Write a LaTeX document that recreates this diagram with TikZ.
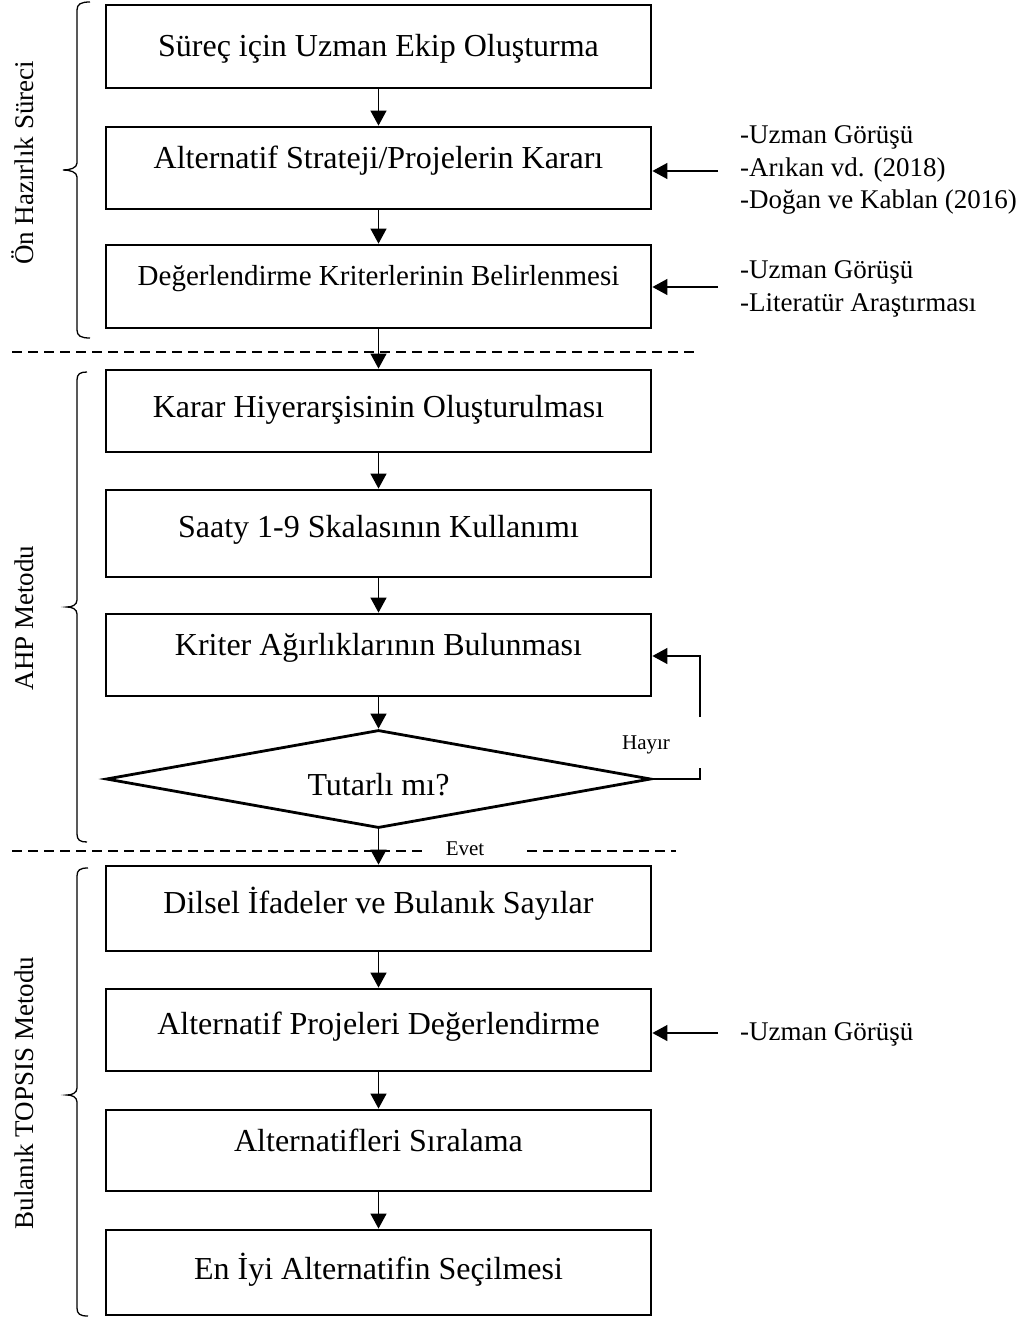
\documentclass[tikz,border=0pt]{standalone}
\usepackage{fontspec}
\setmainfont{Liberation Serif}
\usetikzlibrary{arrows.meta,shapes.geometric}
\begin{document}
\begin{tikzpicture}[x=1pt,y=-1pt,
  box/.style={draw, line width=2.8pt, minimum width=545pt, inner xsep=0pt, inner ysep=0pt,
    font=\fontsize{32}{38}\selectfont, anchor=base},
  flow/.style={line width=1.3pt, -{Triangle[length=15pt,width=16pt]}},
  wire/.style={line width=1.3pt},
  note/.style={anchor=base west, inner sep=0pt, font=\fontsize{27}{32}\selectfont},
  phase/.style={rotate=90, anchor=base, inner sep=0pt, font=\fontsize{27}{32}\selectfont},
  brace/.style={line width=1.3pt},
  sep/.style={line width=1.8pt, dash pattern=on 10pt off 6pt},
  small/.style={anchor=base, inner sep=0pt, font=\fontsize{21}{25}\selectfont}]

\useasboundingbox (0,0) rectangle (1019,1322);

% process boxes (text height/depth place the box edges around the baseline)
\node[box, text height=52pt, text depth=31pt] (b1) at (378.5,57) {Süreç için Uzman Ekip Oluşturma};
\node[box, text height=41pt, text depth=41pt] (b2) at (378.5,168) {Alternatif Strateji/Projelerin Kararı};
\node[box, text height=40pt, text depth=43pt, font=\fontsize{29}{34}\selectfont] (b3) at (378.5,285) {Değerlendirme Kriterlerinin Belirlenmesi};
\node[box, text height=47pt, text depth=35pt] (b4) at (378.5,417) {Karar Hiyerarşisinin Oluşturulması};
\node[box, text height=47pt, text depth=40pt] (b5) at (378.5,537) {Saaty 1-9 Skalasının Kullanımı};
\node[box, text height=41pt, text depth=41pt] (b6) at (378.5,655) {Kriter Ağırlıklarının Bulunması};
\node[diamond, draw, line width=2.8pt, minimum width=545pt, minimum height=98pt, inner sep=0pt] (dia) at (378.5,779) {};
\node[anchor=base, inner sep=0pt, font=\fontsize{32}{38}\selectfont] (diat) at (378.5,795) {Tutarlı mı?};
\node[box, text height=47pt, text depth=38pt] (b7) at (378.5,913) {Dilsel İfadeler ve Bulanık Sayılar};
\node[box, text height=45pt, text depth=37pt] (b8) at (378.5,1034) {Alternatif Projeleri Değerlendirme};
\node[box, text height=41pt, text depth=40pt] (b9) at (378.5,1151) {Alternatifleri Sıralama};
\node[box, text height=49pt, text depth=36pt] (b10) at (378.5,1279) {En İyi Alternatifin Seçilmesi};

% main flow
\draw[flow] (b1) -- (b2);
\draw[flow] (b2) -- (b3);
\draw[flow] (b3) -- (b4);
\draw[flow] (b4) -- (b5);
\draw[flow] (b5) -- (b6);
\draw[flow] (b6) -- (dia);
\draw[flow] (dia) -- (b7);
\draw[flow] (b7) -- (b8);
\draw[flow] (b8) -- (b9);
\draw[flow] (b9) -- (b10);

% consistency feedback loop
\coordinate (fb1) at (700,779);
\coordinate (fb2) at (700,768);
\coordinate (fb3) at (700,717);
\coordinate (fb4) at (700,656);
\draw[wire] (dia.east) -- (fb1) -- (fb2);
\draw[flow] (fb3) -- (fb4) -- (b6.east |- fb4);
\node[small] (hayir) at (646,749) {Hayır};
\node[small] (evet) at (465,855) {Evet};

% inputs from the right
\coordinate (in2) at (718,171);
\coordinate (in3) at (718,287);
\coordinate (in8) at (718,1033);
\draw[flow] (in2) -- (b2.east |- in2);
\draw[flow] (in3) -- (b3.east |- in3);
\draw[flow] (in8) -- (b8.east |- in8);
\node[note] (n2a) at (740,143) {-Uzman Görüşü};
\node[note] (n2b) at (740,176) {-Arıkan vd. (2018)};
\node[note] (n2c) at (740,208) {-Doğan ve Kablan (2016)};
\node[note] (n3a) at (740,278) {-Uzman Görüşü};
\node[note] (n3b) at (740,311) {-Literatür Araştırması};
\node[note] (n8a) at (740,1040) {-Uzman Görüşü};

% phase separators
\coordinate (d1a) at (12,352);
\coordinate (d1b) at (695,352);
\coordinate (d2a) at (12,851);
\coordinate (d2b) at (423,851);
\coordinate (d2c) at (527,851);
\coordinate (d2d) at (676,851);
\draw[sep] (d1a) -- (d1b);
\draw[sep] (d2a) -- (d2b);
\draw[sep] (d2c) -- (d2d);

% phase braces
\draw[brace] (90,2) .. controls (81,2) and (77,4) .. (77,10) -- (77,163)
  .. controls (77,168) and (70,170) .. (63,170) .. controls (70,170) and (77,172) .. (77,177)
  -- (77,330) .. controls (77,336) and (81,338) .. (90,338);
\draw[brace] (87,372) .. controls (80,372) and (77,374) .. (77,380) -- (77,600)
  .. controls (77,605) and (72,607) .. (67,607) .. controls (72,607) and (77,609) .. (77,614)
  -- (77,834) .. controls (77,840) and (80,842) .. (87,842);
\draw[brace] (88,868) .. controls (80,868) and (77,870) .. (77,876) -- (77,1088)
  .. controls (77,1093) and (72,1095) .. (67,1095) .. controls (72,1095) and (77,1097) .. (77,1102)
  -- (77,1308) .. controls (77,1314) and (80,1316) .. (88,1316);

\node[phase] (p1) at (33,163) {Ön Hazırlık Süreci};
\node[phase] (p2) at (33,618) {AHP Metodu};
\node[phase] (p3) at (33,1093) {Bulanık TOPSIS Metodu};
\end{tikzpicture}
\end{document}
